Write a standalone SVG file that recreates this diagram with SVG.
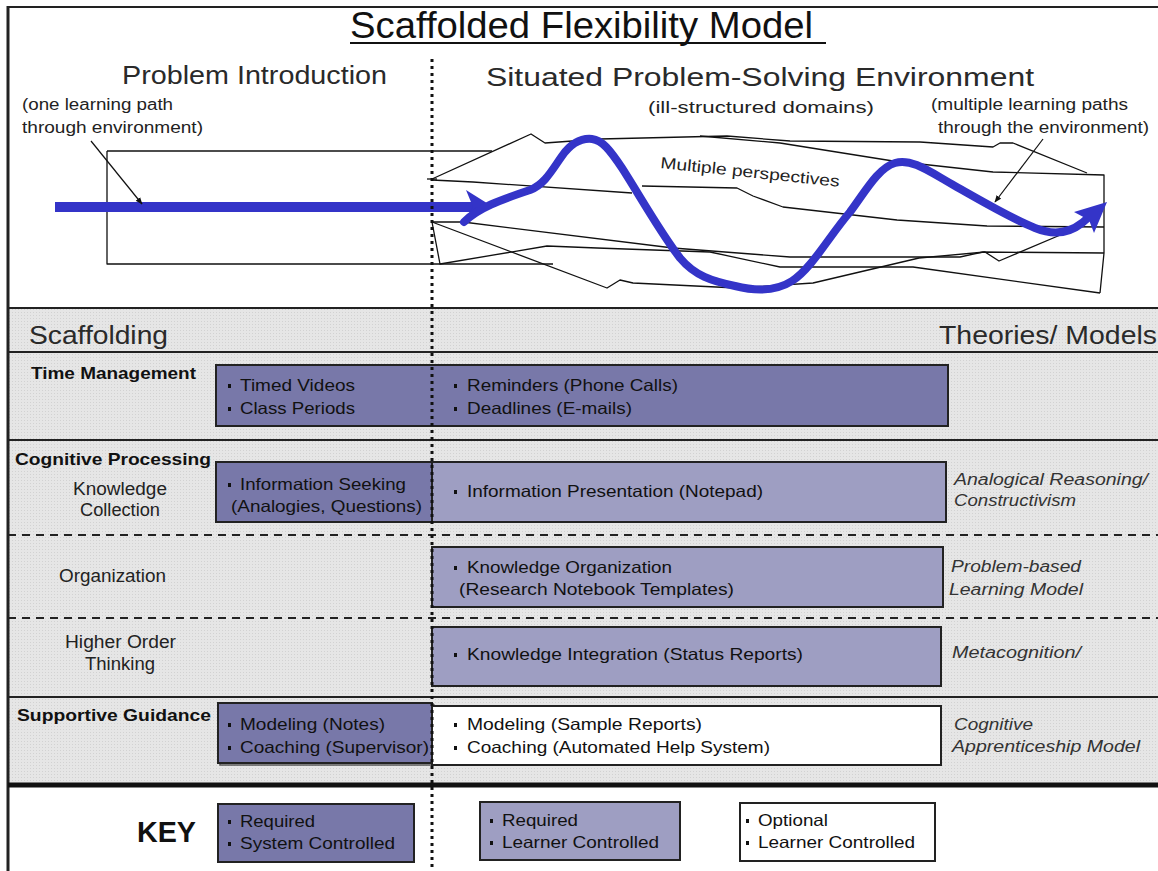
<svg xmlns="http://www.w3.org/2000/svg" width="1158" height="871" viewBox="0 0 1158 871">
  <defs>
    <style>
      text { font-family: "Liberation Sans", Arial, sans-serif; }
      .hd { font-size: 26px; fill: #2a2a2a; }
      .note { font-size: 16px; fill: #222; }
      .lbl { font-size: 17.5px; fill: #222; }
      .bold { font-size: 17px; font-weight: bold; fill: #111; }
      .bt { font-size: 16.5px; fill: #111; }
      .th { font-size: 16px; font-style: italic; fill: #333; }
      .sys { fill: #7878a9; stroke: #222; stroke-width: 2; }
      .lrn { fill: #9e9ec2; stroke: #222; stroke-width: 2; }
      .opt { fill: #ffffff; stroke: #222; stroke-width: 2; }
      .sketch { fill: none; stroke: #111; stroke-width: 1.3; stroke-linejoin: round; }
      .rule { stroke: #222; stroke-width: 2; }
      .dash { stroke: #222; stroke-width: 2; stroke-dasharray: 8 6; }
      .blue { fill: none; stroke: #3434c8; stroke-width: 8; stroke-linecap: round; stroke-linejoin: round; }
      .ptr { fill: none; stroke: #111; stroke-width: 1.2; }
    </style>
    <pattern id="stipple" width="3" height="3" patternUnits="userSpaceOnUse">
      <rect width="3" height="3" fill="#e6e6e6"/>
      <rect width="1" height="1" fill="#d2d2d2"/>
    </pattern>
    <marker id="tip" viewBox="0 0 10 10" refX="9" refY="5" markerWidth="6" markerHeight="6" orient="auto">
      <path d="M0,1 L10,5 L0,9 Z" fill="#111"/>
    </marker>
    <rect id="bullet" width="3" height="4" fill="#111"/>
  </defs>

  <!-- page background and frame -->
  <rect width="1158" height="871" fill="#fff"/>
  <g id="frame">
    <rect x="9" y="308" width="1149" height="476" fill="url(#stipple)"/>
    <line x1="8" y1="7" x2="1158" y2="7" class="rule"/>
    <line x1="8" y1="6" x2="8" y2="871" stroke="#222" stroke-width="3"/>
    <line x1="8" y1="308" x2="1158" y2="308" class="rule" stroke-width="2.5"/>
    <line x1="8" y1="352" x2="1158" y2="352" class="rule" stroke-width="1.6"/>
    <line x1="8" y1="440" x2="1158" y2="440" class="rule" stroke-width="1.6"/>
    <line x1="8" y1="535" x2="1158" y2="535" class="dash"/>
    <line x1="8" y1="618" x2="1158" y2="618" class="dash"/>
    <line x1="8" y1="697" x2="1158" y2="697" class="rule"/>
    <line x1="8" y1="785" x2="1158" y2="785" stroke="#111" stroke-width="5"/>
  </g>

  <!-- titles -->
  <g id="titles">
    <text x="350" y="38" font-size="36" fill="#111" textLength="463" lengthAdjust="spacingAndGlyphs">Scaffolded Flexibility Model</text>
    <line x1="350" y1="43" x2="826" y2="43" stroke="#111" stroke-width="2"/>
    <text x="122" y="84" class="hd" textLength="265" lengthAdjust="spacingAndGlyphs">Problem Introduction</text>
    <text x="486" y="86" class="hd" textLength="548" lengthAdjust="spacingAndGlyphs">Situated Problem-Solving Environment</text>
    <text x="648" y="113" class="note" font-size="17" textLength="226" lengthAdjust="spacingAndGlyphs">(ill-structured domains)</text>
    <text x="22" y="110" class="note" textLength="151" lengthAdjust="spacingAndGlyphs">(one learning path</text>
    <text x="22" y="133" class="note" textLength="181" lengthAdjust="spacingAndGlyphs">through environment)</text>
    <text x="931" y="110" class="note" textLength="197" lengthAdjust="spacingAndGlyphs">(multiple learning paths</text>
    <text x="938" y="133" class="note" textLength="211" lengthAdjust="spacingAndGlyphs">through the environment)</text>
  </g>

  <!-- introduction box and the ill-structured environment sketch -->
  <g id="environment">
    <polyline class="sketch" points="107,151 492,151"/>
    <polyline class="sketch" points="107,151 107,264 440,264 553,264"/>
    <polyline class="sketch" points="427,179 437,179"/>
    <polyline class="sketch" points="432,179 531,134 545,143 600,139 727,136 790,141 920,142 993,147 1000,143 1013,143 1087,173"/>
    <polyline class="sketch" points="700,136 780,143 893,161 993,172 1104,175 1104,253 1100,293"/>
    <polyline class="sketch" points="432,180 473,182 632,193"/>
    <polyline class="sketch" points="642,186 737,188 753,196 783,207 897,220 987,226 1104,227"/>
    <polyline class="sketch" points="432,222 463,222 673,248 790,257 960,257 983,252 1104,253"/>
    <polyline class="sketch" points="432,222 607,288 620,280 633,283 737,288 813,283 919,258 985,252 999,261 1065,233"/>
    <polyline class="sketch" points="432,222 440,264 547,246 597,248 710,252 780,267 913,267 1100,293"/>
    <text class="note" transform="translate(660,168) rotate(6)" textLength="180" lengthAdjust="spacingAndGlyphs">Multiple perspectives</text>
  </g>

  <!-- learning paths and pointers -->
  <g id="connectors">
    <line x1="55" y1="207" x2="476" y2="207" stroke="#3434c8" stroke-width="10"/>
    <path d="M466,190 L490,205 L466,218 L473,207 Z" fill="#3434c8"/>
    <path class="blue" d="M464,222 C478,208 500,200 530,190 C545,184 552,170 562,156 C572,142 582,138 592,139 C602,140 610,150 622,168 C640,196 660,232 680,258 C695,276 712,281 735,286 C755,291 775,292 792,281 C812,268 830,235 850,212 C865,192 878,168 895,163 C912,158 930,172 955,186 C980,200 1010,218 1035,228 C1052,235 1068,234 1082,223 L1096,211"/>
    <path d="M1074,212 L1107,202 L1094,233 L1089,220 Z" fill="#3434c8"/>
    <line class="ptr" x1="91" y1="141" x2="142" y2="204" marker-end="url(#tip)"/>
    <line class="ptr" x1="1043" y1="139" x2="995" y2="202" marker-end="url(#tip)"/>
  </g>

  <!-- section headers -->
  <g id="section-headers">
    <text x="29" y="344" class="hd" textLength="139" lengthAdjust="spacingAndGlyphs">Scaffolding</text>
    <text x="939" y="344" class="hd" textLength="218" lengthAdjust="spacingAndGlyphs">Theories/ Models</text>
  </g>

  <!-- time management -->
  <g id="time-management">
    <text x="31" y="379" class="bold" textLength="165" lengthAdjust="spacingAndGlyphs">Time Management</text>
    <rect x="216" y="365" width="732" height="61" class="sys"/>
    <use href="#bullet" x="228" y="384"/>
    <text x="240" y="391" class="bt" textLength="115" lengthAdjust="spacingAndGlyphs">Timed Videos</text>
    <use href="#bullet" x="228" y="407"/>
    <text x="240" y="414" class="bt" textLength="115" lengthAdjust="spacingAndGlyphs">Class Periods</text>
    <use href="#bullet" x="454" y="384"/>
    <text x="467" y="391" class="bt" textLength="211" lengthAdjust="spacingAndGlyphs">Reminders (Phone Calls)</text>
    <use href="#bullet" x="454" y="407"/>
    <text x="467" y="414" class="bt" textLength="165" lengthAdjust="spacingAndGlyphs">Deadlines (E-mails)</text>
  </g>

  <!-- cognitive processing: knowledge collection -->
  <g id="knowledge-collection">
    <text x="15" y="465" class="bold" textLength="196" lengthAdjust="spacingAndGlyphs">Cognitive Processing</text>
    <text x="73" y="495" class="lbl" textLength="94" lengthAdjust="spacingAndGlyphs">Knowledge</text>
    <text x="80" y="516" class="lbl" textLength="80" lengthAdjust="spacingAndGlyphs">Collection</text>
    <rect x="216" y="462" width="216" height="60" class="sys"/>
    <rect x="432" y="462" width="514" height="60" class="lrn"/>
    <use href="#bullet" x="228" y="483"/>
    <text x="240" y="490" class="bt" textLength="166" lengthAdjust="spacingAndGlyphs">Information Seeking</text>
    <text x="231" y="512" class="bt" textLength="191" lengthAdjust="spacingAndGlyphs">(Analogies, Questions)</text>
    <use href="#bullet" x="454" y="490"/>
    <text x="467" y="497" class="bt" textLength="296" lengthAdjust="spacingAndGlyphs">Information Presentation (Notepad)</text>
    <text x="954" y="485" class="th" textLength="194" lengthAdjust="spacingAndGlyphs">Analogical Reasoning/</text>
    <text x="954" y="506" class="th" textLength="122" lengthAdjust="spacingAndGlyphs">Constructivism</text>
  </g>

  <!-- organization -->
  <g id="organization">
    <text x="59" y="582" class="lbl" textLength="107" lengthAdjust="spacingAndGlyphs">Organization</text>
    <rect x="432" y="547" width="511" height="60" class="lrn"/>
    <use href="#bullet" x="454" y="566"/>
    <text x="467" y="573" class="bt" textLength="205" lengthAdjust="spacingAndGlyphs">Knowledge Organization</text>
    <text x="459" y="595" class="bt" textLength="275" lengthAdjust="spacingAndGlyphs">(Research Notebook Templates)</text>
    <text x="951" y="572" class="th" textLength="130" lengthAdjust="spacingAndGlyphs">Problem-based</text>
    <text x="949" y="595" class="th" textLength="134" lengthAdjust="spacingAndGlyphs">Learning Model</text>
  </g>

  <!-- higher order thinking -->
  <g id="higher-order-thinking">
    <text x="65" y="648" class="lbl" textLength="111" lengthAdjust="spacingAndGlyphs">Higher Order</text>
    <text x="85" y="670" class="lbl" textLength="70" lengthAdjust="spacingAndGlyphs">Thinking</text>
    <rect x="432" y="627" width="509" height="59" class="lrn"/>
    <use href="#bullet" x="454" y="653"/>
    <text x="467" y="660" class="bt" textLength="336" lengthAdjust="spacingAndGlyphs">Knowledge Integration  (Status Reports)</text>
    <text x="952" y="658" class="th" textLength="129" lengthAdjust="spacingAndGlyphs">Metacognition/</text>
  </g>

  <!-- supportive guidance -->
  <g id="supportive-guidance">
    <text x="17" y="721" class="bold" textLength="194" lengthAdjust="spacingAndGlyphs">Supportive Guidance</text>
    <rect x="220" y="705" width="214" height="60" fill="none" stroke="#555" stroke-width="1.5"/>
    <rect x="218" y="703" width="214" height="60" class="sys"/>
    <rect x="432" y="706" width="509" height="59" class="opt"/>
    <use href="#bullet" x="228" y="723"/>
    <text x="240" y="730" class="bt" textLength="145" lengthAdjust="spacingAndGlyphs">Modeling (Notes)</text>
    <use href="#bullet" x="228" y="746"/>
    <text x="240" y="753" class="bt" textLength="189" lengthAdjust="spacingAndGlyphs">Coaching (Supervisor)</text>
    <use href="#bullet" x="454" y="723"/>
    <text x="467" y="730" class="bt" textLength="235" lengthAdjust="spacingAndGlyphs">Modeling  (Sample Reports)</text>
    <use href="#bullet" x="454" y="746"/>
    <text x="467" y="753" class="bt" textLength="303" lengthAdjust="spacingAndGlyphs">Coaching (Automated Help System)</text>
    <text x="954" y="730" class="th" textLength="79" lengthAdjust="spacingAndGlyphs">Cognitive</text>
    <text x="952" y="752" class="th" textLength="188" lengthAdjust="spacingAndGlyphs">Apprenticeship Model</text>
  </g>

  <!-- key -->
  <g id="key">
    <text x="137" y="842" font-size="29" font-weight="bold" fill="#111" textLength="59" lengthAdjust="spacingAndGlyphs">KEY</text>
    <g id="key-system">
      <rect x="218" y="804" width="196" height="58" class="sys"/>
      <use href="#bullet" x="228" y="820"/>
      <text x="240" y="827" class="bt" textLength="75" lengthAdjust="spacingAndGlyphs">Required</text>
      <use href="#bullet" x="228" y="842"/>
      <text x="240" y="849" class="bt" textLength="155" lengthAdjust="spacingAndGlyphs">System Controlled</text>
    </g>
    <g id="key-learner">
      <rect x="480" y="802" width="200" height="58" class="lrn"/>
      <use href="#bullet" x="490" y="819"/>
      <text x="502" y="826" class="bt" textLength="76" lengthAdjust="spacingAndGlyphs">Required</text>
      <use href="#bullet" x="490" y="841"/>
      <text x="502" y="848" class="bt" textLength="157" lengthAdjust="spacingAndGlyphs">Learner Controlled</text>
    </g>
    <g id="key-optional">
      <rect x="740" y="803" width="195" height="58" class="opt"/>
      <use href="#bullet" x="746" y="819"/>
      <text x="758" y="826" class="bt" textLength="70" lengthAdjust="spacingAndGlyphs">Optional</text>
      <use href="#bullet" x="746" y="841"/>
      <text x="758" y="848" class="bt" textLength="157" lengthAdjust="spacingAndGlyphs">Learner Controlled</text>
    </g>
  </g>

  <!-- phase divider -->
  <line id="divider" x1="432" y1="59" x2="432" y2="871" stroke="#111" stroke-width="3" stroke-dasharray="3 4"/>
</svg>
